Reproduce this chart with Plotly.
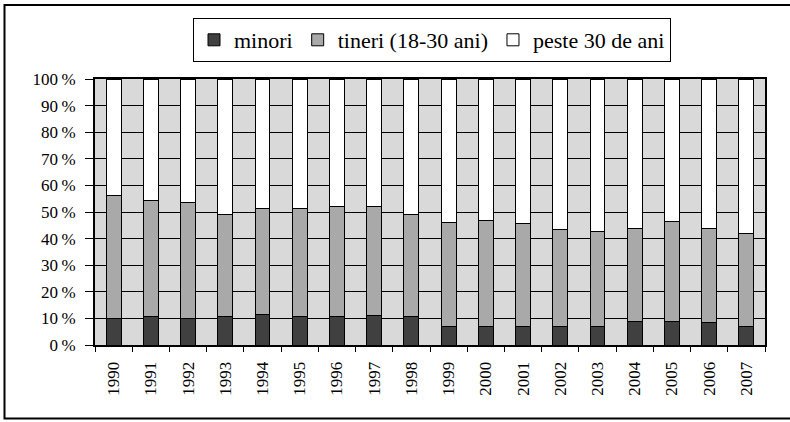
import plotly.graph_objects as go

years = [str(y) for y in range(1990, 2008)]
minori = [10.0, 10.6, 10.0, 10.6, 11.3, 10.6, 10.6, 11.2, 10.6, 6.9, 6.9, 6.9, 6.9, 6.9, 8.8, 9.0, 8.4, 6.9]
tineri_top = [56.3, 54.5, 53.6, 49.2, 51.4, 51.3, 52.0, 52.0, 49.2, 45.9, 46.9, 45.7, 43.5, 42.5, 43.7, 46.4, 43.7, 42.0]
tineri = [round(t - m, 1) for t, m in zip(tineri_top, minori)]
peste30 = [round(100 - t, 1) for t in tineri_top]

y_ticks = list(range(0, 101, 10))
y_ticktext = [f"{v}\u2009%" for v in y_ticks]

FONT = "Liberation Serif"

fig = go.Figure()
for name, vals, col in [("minori", minori, "#404040"),
                        ("tineri (18-30 ani)", tineri, "#a9a9a9"),
                        ("peste 30 de ani", peste30, "#ffffff")]:
    fig.add_trace(go.Bar(x=years, y=vals, name=name, marker_color=col,
                         marker_line=dict(color="#000000", width=1)))

W, H = 790, 422
L, R, T, B = 95, 25, 79, 77
pw, ph = W - L - R, H - T - B

def px2x(px):
    return (px - L) / pw

def py2y(py):
    return (H - B - py) / ph

fig.update_layout(
    width=W, height=H, barmode="stack", bargap=0.6,
    margin=dict(l=L, r=R, t=T, b=B),
    paper_bgcolor="white", plot_bgcolor="#d9d9d9",
    font=dict(family=FONT, size=17, color="black"),
    legend=dict(orientation="h", x=px2x(432), xanchor="center", y=py2y(18), yanchor="top",
                bordercolor="black", borderwidth=1, font=dict(family=FONT, size=22),
                traceorder="normal", itemwidth=30, tracegroupgap=0),
    showlegend=True,
)
fig.update_xaxes(type="category", range=[-0.5, 17.5], tickangle=-90, ticks="outside",
                 tickson="boundaries", ticklen=5, tickcolor="black", showline=True,
                 linecolor="black", linewidth=2, mirror=True, showgrid=False,
                 tickfont=dict(size=17), ticklabelstandoff=8)
fig.update_yaxes(range=[0, 100], tickvals=y_ticks, ticktext=y_ticktext, ticks="outside",
                 ticklen=8, tickcolor="black", showline=True, linecolor="black", linewidth=2,
                 mirror=True, showgrid=True, gridcolor="black", gridwidth=1.3,
                 tickfont=dict(size=17), zeroline=False, ticklabelstandoff=6)

fig.add_shape(type="rect", xref="paper", yref="paper",
              x0=px2x(4.5), x1=px2x(800), y0=py2y(418.5), y1=py2y(5),
              line=dict(color="black", width=2), fillcolor="rgba(0,0,0,0)", layer="above")

fig.write_html("out.html", config={"displayModeBar": False},
               post_script="document.body.style.margin='0';")
